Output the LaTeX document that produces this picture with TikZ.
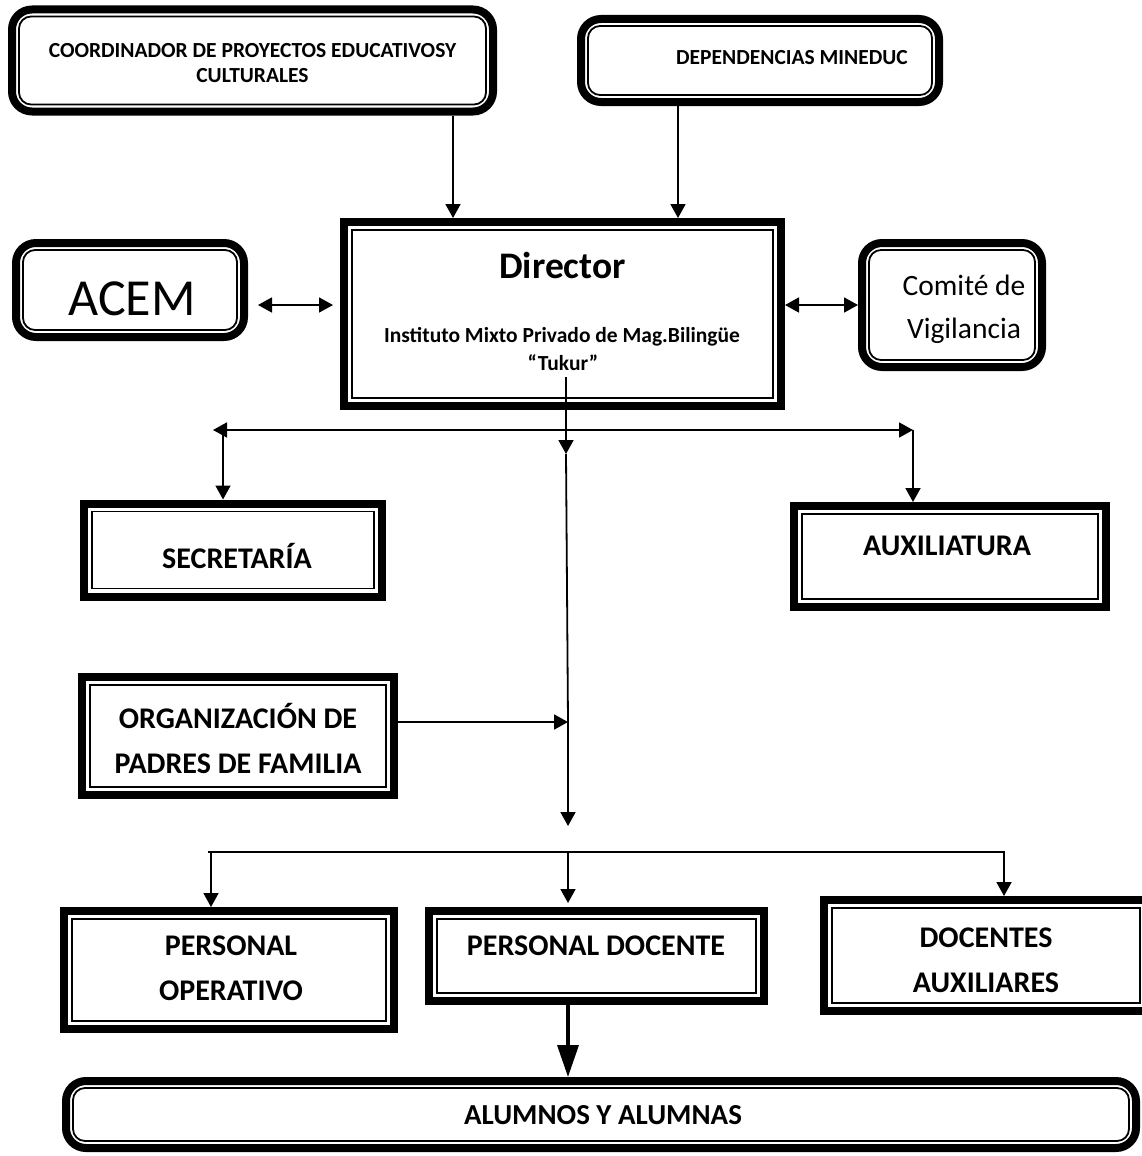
\documentclass[tikz,border=0pt]{standalone}
\usepackage{fontspec}
\setmainfont{Carlito}
\usetikzlibrary{arrows.meta}
\begin{document}
\begin{tikzpicture}[x=1pt,y=-1pt,
  box/.style={draw, line width=8pt, inner sep=0pt},
  rbox/.style={box, rounded corners=20pt},
  inr/.style={line width=1.8pt},
  txt/.style={anchor=base, inner sep=0pt, font=\bfseries\fontsize{#1}{#1}\selectfont},
  rtxt/.style={anchor=base, inner sep=0pt, font=\fontsize{#1}{#1}\selectfont},
  arr/.style={line width=1.8pt, -{Triangle[width=15pt,length=14pt]}},
  darr/.style={line width=1.8pt, {Triangle[width=15pt,length=14pt]}-{Triangle[width=15pt,length=14pt]}},
  ln/.style={line width=1.8pt},
  bigarr/.style={line width=3.5pt, -{Triangle[width=21pt,length=32pt]}},
]
\useasboundingbox[fill=white] (0,0) rectangle (1142,1156);

% boxes
\node[rbox, minimum width=481pt, minimum height=102pt] (coord) at (252.5,60.5) {};
\node[rbox, minimum width=358pt, minimum height=83pt] (dep) at (760,60.5) {};
\node[box, minimum width=437pt, minimum height=184pt] (dir) at (562.5,314) {};
\node[rbox, minimum width=228pt, minimum height=94pt] (acem) at (130,290) {};
\node[rbox, minimum width=180pt, minimum height=124pt] (com) at (952,305) {};
\node[box, minimum width=298pt, minimum height=93pt] (sec) at (233,550) {};
\node[box, minimum width=312pt, minimum height=101pt] (aux) at (950,556.5) {};
\node[box, minimum width=312pt, minimum height=118pt] (org) at (238,736) {};
\node[box, minimum width=330pt, minimum height=118pt] (pop) at (229,970) {};
\node[box, minimum width=335pt, minimum height=90pt] (pdoc) at (596.5,956) {};
\node[box, minimum width=324pt, minimum height=111pt] (daux) at (986,955.5) {};
\node[rbox, minimum width=1070pt, minimum height=67pt] (alum) at (601,1114.5) {};

% inner lines
\foreach \n in {dir,sec,aux,org,pop,pdoc,daux}
  \draw[inr] ([shift={(12,12)}]\n.north west) rectangle ([shift={(-12,-12)}]\n.south east);
\foreach \n in {coord,dep,acem,com,alum}
  \draw[inr, rounded corners=12pt] ([shift={(11,11)}]\n.north west) rectangle ([shift={(-11,-11)}]\n.south east);

% texts
\node[txt=21.5] (t1) at (252.5,57) {COORDINADOR DE PROYECTOS EDUCATIVOSY};
\node[txt=21.5] (t2) at (252.5,82) {CULTURALES};
\node[txt=21.5] (t3) at (792,64) {DEPENDENCIAS MINEDUC};
\node[txt=37.5] (t4) at (562.5,278) {Director};
\node[txt=21.5] (t5) at (562,342) {Instituto Mixto Privado de Mag.Bilingüe};
\node[txt=21.5] (t6) at (563,370) {“Tukur”};
\node[rtxt=52] (t7) at (132,315) {ACEM};
\node[rtxt=29.5] (t8) at (964,295) {Comité de};
\node[rtxt=29.5] (t9) at (964,338) {Vigilancia};
\node[txt=30] (t10) at (237,568) {SECRETARÍA};
\node[txt=30] (t11) at (947,555) {AUXILIATURA};
\node[txt=30] (t12) at (238,728) {ORGANIZACIÓN DE};
\node[txt=30] (t13) at (238,773) {PADRES DE FAMILIA};
\node[txt=30] (t14) at (231,955) {PERSONAL};
\node[txt=30] (t15) at (231,1000) {OPERATIVO};
\node[txt=30] (t16) at (596,955) {PERSONAL DOCENTE};
\node[txt=30] (t17) at (986,947) {DOCENTES};
\node[txt=30] (t18) at (986,992) {AUXILIARES};
\node[txt=29] (t19) at (603,1124) {ALUMNOS Y ALUMNAS};

% helper coordinates
\coordinate (x1) at (453,0);
\coordinate (x2) at (678,0);
\coordinate (y1) at (0,305);
\coordinate (dstart) at (566,377);
\coordinate (j1) at (566,454);
\coordinate (j2) at (568,722);
\coordinate (j3) at (568,826);
\coordinate (hL) at (213,430);
\coordinate (hL2) at (223,430);
\coordinate (hR) at (913,430);
\coordinate (bL) at (208,852);
\coordinate (b1) at (211,852);
\coordinate (b2) at (568,852);
\coordinate (b3) at (1004,852);
\coordinate (bR) at (1005,852);

% connectors
\draw[arr] (coord.south -| x1) -- (dir.north -| x1);
\draw[arr] (dep.south -| x2) -- (dir.north -| x2);
\draw[darr, shorten <=10pt, shorten >=7pt] (acem.east |- y1) -- (dir.west |- y1);
\draw[darr] (dir.east |- y1) -- (com.west |- y1);
\draw[arr] (dstart) -- (j1);
\draw[ln] (j1) -- (j2);
\draw[darr] (hL) -- (hR);
\draw[arr] (hL2) -- (sec.north -| hL2);
\draw[arr] (hR) -- (aux.north -| hR);
\draw[arr] (org.east |- j2) -- (j2);
\draw[arr] (j2) -- (j3);
\draw[ln] (bL) -- (bR);
\draw[arr] (b1) -- (pop.north -| b1);
\draw[arr, shorten >=4pt] (b2) -- (pdoc.north -| b2);
\draw[arr] (b3) -- (daux.north -| b3);
\draw[bigarr] (pdoc.south -| b2) -- (alum.north -| b2);
\end{tikzpicture}
\end{document}
